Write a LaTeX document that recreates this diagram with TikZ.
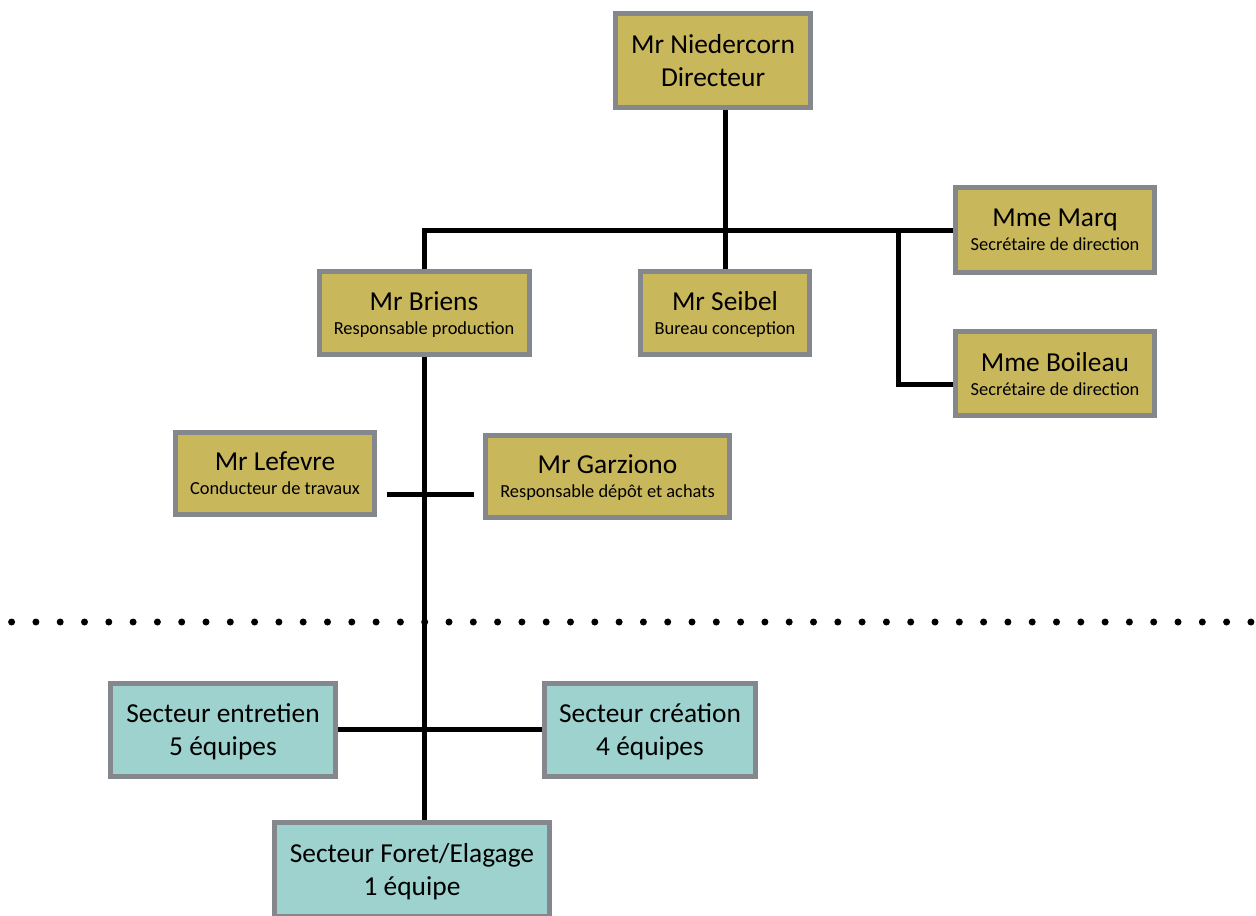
\documentclass[tikz,border=0pt]{standalone}
\usepackage{fontspec}
\setmainfont{Carlito}
\usepackage{tikz}
\usetikzlibrary{calc}

\definecolor{or}{RGB}{201,183,92}
\definecolor{turquoise}{RGB}{157,210,206}
\definecolor{bordure}{RGB}{132,135,140}

\newcommand{\nomfont}{\fontsize{13.7}{16.5}\selectfont}
\newcommand{\fonctfont}{\fontsize{9.2}{11}\selectfont}

\tikzset{
  boite/.style={draw=bordure, line width=2.5pt, fill=or, inner sep=0pt, align=center, font=\nomfont,
    text depth=-1.5pt},
  secteur/.style={boite, fill=turquoise},
  lien/.style={line width=2.5pt, black}
}

\begin{document}
\begin{tikzpicture}[x=0.5pt,y=0.5pt,yscale=-1,xscale=1]
\useasboundingbox (0,0) rectangle (1256,915);

% Text Node
\node [boite, minimum width=97.5pt, minimum height=47pt] (dir) at (713,60.5) {Mr Niedercorn\\Directeur};
% Text Node
\node [boite, minimum width=105pt, minimum height=41.5pt] (briens) at (424,313) {Mr Briens\\[-4.5pt]{\fonctfont Responsable production}};
% Text Node
\node [boite, minimum width=84.5pt, minimum height=41.5pt] (seibel) at (725,313) {Mr Seibel\\[-4.5pt]{\fonctfont Bureau conception}};
% Text Node
\node [boite, minimum width=99.5pt, minimum height=42.5pt] (marq) at (1055,230) {Mme Marq\\[-4.5pt]{\fonctfont Secrétaire de direction}};
% Text Node
\node [boite, minimum width=99.5pt, minimum height=42pt] (boileau) at (1055,373.5) {Mme Boileau\\[-4.5pt]{\fonctfont Secrétaire de direction}};
% Text Node
\node [boite, minimum width=99.5pt, minimum height=41pt] (lefevre) at (275,473.5) {Mr Lefevre\\[-4.5pt]{\fonctfont Conducteur de travaux}};
% Text Node
\node [boite, minimum width=122pt, minimum height=41pt] (garziono) at (607.5,476.5) {Mr Garziono\\[-4.5pt]{\fonctfont Responsable dépôt et achats}};
% Text Node
\node [secteur, minimum width=112.5pt, minimum height=46.5pt] (entretien) at (223,729.5) {Secteur entretien\\5 équipes};
% Text Node
\node [secteur, minimum width=105.5pt, minimum height=46.5pt] (creation) at (650,729.5) {Secteur création\\4 équipes};
% Text Node
\node [secteur, minimum width=137.5pt, minimum height=47pt] (foret) at (412,869.5) {Secteur Foret/Elagage\\1 équipe};

\coordinate (sec) at (898,230);
\coordinate (croix) at (424,494);

%Straight Lines
\draw [lien] (seibel.north |- dir.south) -- (seibel.north);
%Straight Lines
\draw [lien] (briens.north) |- (marq.west);
%Straight Lines
\draw [lien] (sec) |- ([yshift=5.5pt]boileau.west);
%Straight Lines
\draw [lien] (briens.south) -- (briens.south |- foret.north);
%Straight Lines
\draw [lien] ([xshift=5pt]lefevre.east |- croix) -- ([xshift=-4.5pt]garziono.west |- croix);
%Straight Lines
\draw [lien] (entretien.east) -- (creation.west);

%Dotted Line
\draw [line width=3.5pt, line cap=round, dash pattern=on 0pt off 12.15pt] (11.6,622) -- (1256,622);

\end{tikzpicture}
\end{document}
